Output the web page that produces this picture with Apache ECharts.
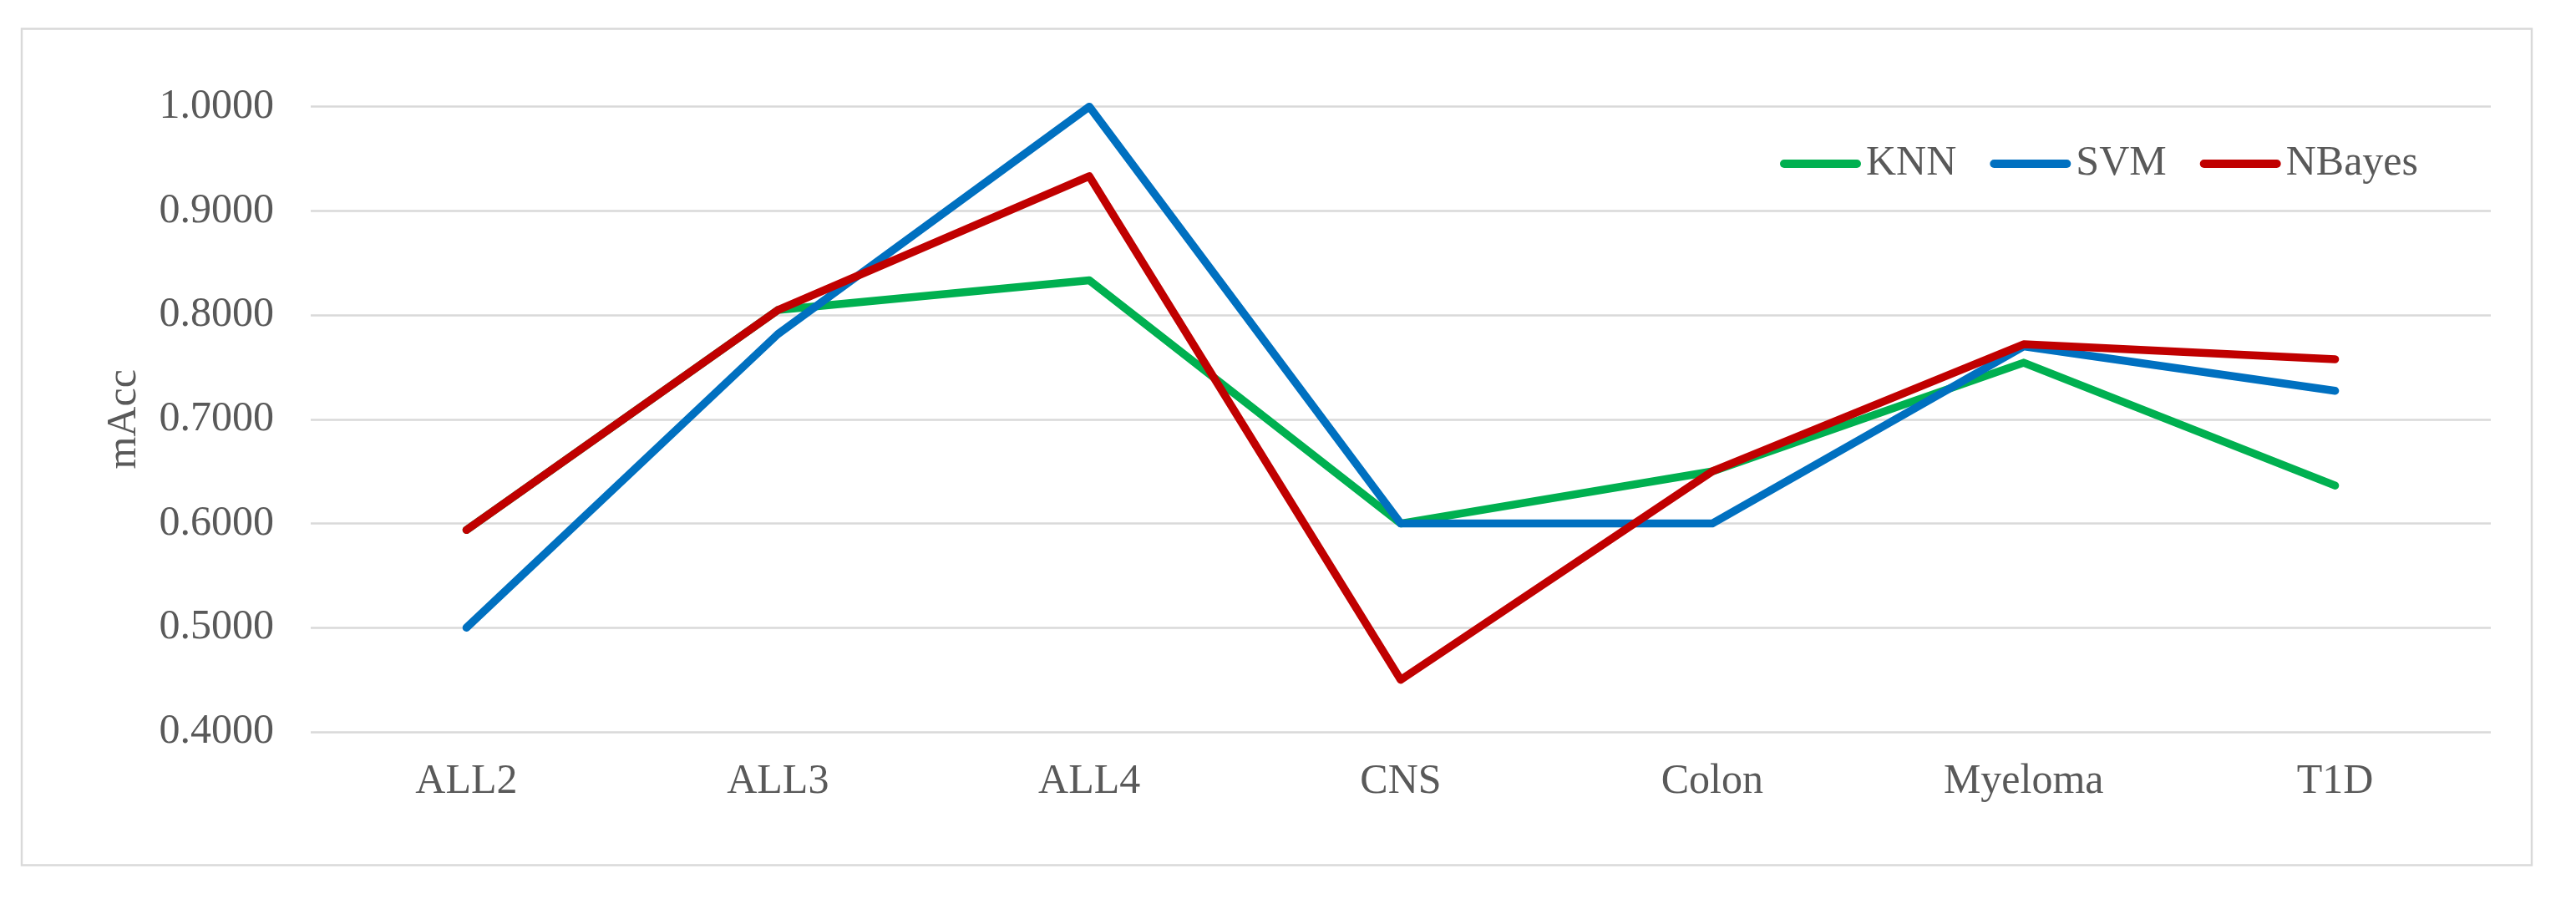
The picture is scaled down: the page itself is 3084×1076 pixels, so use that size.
<!DOCTYPE html>
<html>
<head>
<meta charset="utf-8">
<script src="https://cdn.jsdelivr.net/npm/echarts@6/dist/echarts.min.js"></script>
<style>
html,body{margin:0;padding:0;background:#fff;}
#chart{width:3084px;height:1076px;}
</style>
</head>
<body>
<div id="chart"></div>
<script>
const categories = ['ALL2', 'ALL3', 'ALL4', 'CNS', 'Colon', 'Myeloma', 'T1D'];
const knn    = [0.5938, 0.8049, 0.8333, 0.6000, 0.6500, 0.7543, 0.6364];
const svm    = [0.5000, 0.7818, 1.0000, 0.6000, 0.6000, 0.7700, 0.7273];
const nbayes = [0.5938, 0.8049, 0.9333, 0.4500, 0.6500, 0.7720, 0.7576];
const yTicks = { min: 0.4, max: 1.0, interval: 0.1 };
const seriesNames = ['KNN', 'SVM', 'NBayes'];
const colors = ['#00B050', '#0070C0', '#C00000'];

const FONT = '"Liberation Serif", "Times New Roman", serif';
const TXT = '#595959';
const ICON = 'path://M5,0 L92,0 A5,5 0 0 1 92,10 L5,10 A5,5 0 0 1 5,0 Z';

const chart = echarts.init(document.getElementById('chart'), null, { renderer: 'canvas' });

function mk(name, data, color) {
  return {
    name: name,
    type: 'line',
    data: data,
    showSymbol: false,
    symbol: 'none',
    color: color,
    itemStyle: { color: color },
    lineStyle: { color: color, width: 9.5, cap: 'round', join: 'round' },
    emphasis: { disabled: true },
    animation: false
  };
}

chart.setOption({
  animation: false,
  backgroundColor: '#ffffff',
  textStyle: { fontFamily: FONT, color: TXT },
  graphic: [{
    type: 'rect',
    shape: { x: 26, y: 34.5, width: 3005, height: 1001 },
    style: { fill: 'none', stroke: '#d9d9d9', lineWidth: 2.5 },
    silent: true
  }],
  grid: { left: 372, right: 102, top: 127.7, bottom: 200, containLabel: false },
  legend: {
    data: seriesNames.map(n => ({ name: n, icon: ICON })),
    left: 2126,
    top: 166,
    itemWidth: 97,
    itemHeight: 10,
    itemGap: 40,
    textStyle: { fontFamily: FONT, fontSize: 50, color: TXT, padding: [0, 0, 0, 1] }
  },
  xAxis: {
    type: 'category',
    data: categories,
    boundaryGap: true,
    axisLine: { show: false },
    axisTick: { show: false },
    axisLabel: { fontFamily: FONT, fontSize: 50, color: TXT, margin: 35 }
  },
  yAxis: {
    type: 'value',
    min: yTicks.min,
    max: yTicks.max,
    interval: yTicks.interval,
    name: 'mAcc',
    nameLocation: 'middle',
    nameGap: 198,
    nameRotate: 90,
    nameTextStyle: { fontFamily: FONT, fontSize: 50, color: TXT },
    axisLine: { show: false },
    axisTick: { show: false },
    splitLine: { lineStyle: { color: '#d9d9d9', width: 2.5 } },
    axisLabel: {
      fontFamily: FONT, fontSize: 50, color: TXT, margin: 44,
      formatter: v => v.toFixed(4)
    }
  },
  series: [
    mk(seriesNames[0], knn, colors[0]),
    mk(seriesNames[1], svm, colors[1]),
    mk(seriesNames[2], nbayes, colors[2])
  ]
});
</script>
</body>
</html>
